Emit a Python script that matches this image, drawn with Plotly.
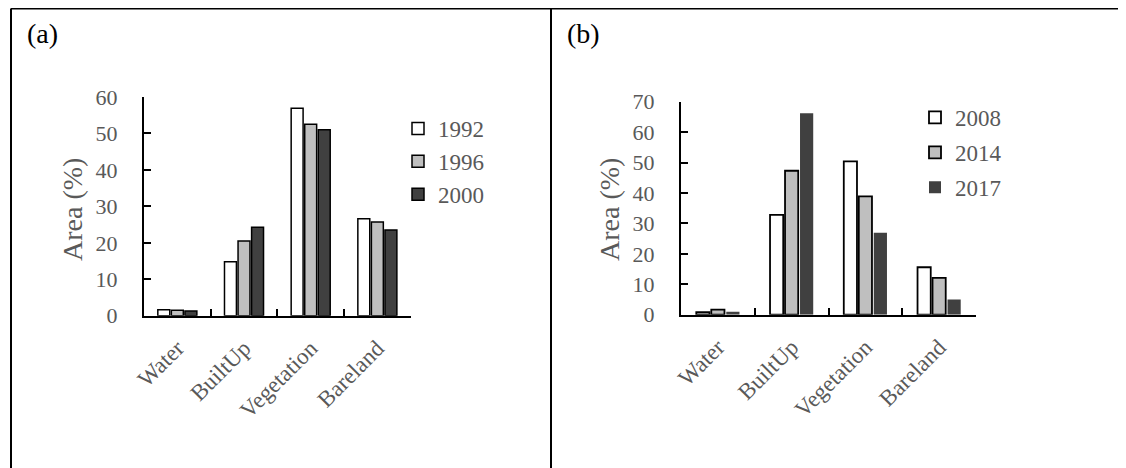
import plotly.graph_objects as go

# ---- data ----
categories = ["Water", "BuiltUp", "Vegetation", "Bareland"]
years_a = ["1992", "1996", "2000"]
a_1992 = [1.6, 14.8, 56.9, 26.6]
a_1996 = [1.5, 20.5, 52.5, 25.7]
a_2000 = [1.3, 24.3, 51.0, 23.5]
years_b = ["2008", "2014", "2017"]
b_2008 = [0.8, 32.8, 50.4, 15.6]
b_2014 = [1.7, 47.3, 38.9, 12.1]
b_2017 = [1.0, 66.2, 26.9, 5.0]
yticks_a = [0, 10, 20, 30, 40, 50, 60]
yticks_b = [0, 10, 20, 30, 40, 50, 60, 70]

W, H = 1126, 468
OFF = 8  # page body margin
FONT = "Liberation Serif"
GRAY = "#595959"
fills = ["#FFFFFF", "#BFBFBF", "#404040"]


def px(x):
    return (x - OFF) / W


def py(y):
    return 1 - (y - OFF) / H


fig = go.Figure()

series_a = [a_1992, a_1996, a_2000]
series_b = [b_2008, b_2014, b_2017]

for i, (yr, vals) in enumerate(zip(years_a, series_a)):
    fig.add_trace(go.Bar(
        x=categories, y=vals, name=yr, xaxis="x", yaxis="y",
        marker=dict(color=fills[i], line=dict(color="#000000", width=1.5)),
        legend="legend", legendgroup="a" + yr,
    ))

for i, (yr, vals) in enumerate(zip(years_b, series_b)):
    lw = 0 if i == 2 else 1.8
    fig.add_trace(go.Bar(
        x=categories, y=vals, name=yr, xaxis="x2", yaxis="y2",
        marker=dict(color=fills[i], line=dict(color="#000000", width=lw)),
        legend="legend2", legendgroup="b" + yr,
    ))

xcommon = dict(
    type="category", range=[-0.5, 3.5], showline=True, linecolor="#000000",
    linewidth=2, ticks="inside", tickson="boundaries", ticklen=7, tickwidth=2,
    tickcolor="#000000", tickangle=-45, showgrid=False, automargin=False,
    tickfont=dict(family=FONT, size=23, color=GRAY), ticklabelstandoff=8,
)
ycommon = dict(
    showline=True, linecolor="#000000", linewidth=2, ticks="inside",
    ticklen=7, tickwidth=2, tickcolor="#000000", showgrid=False,
    zeroline=False, automargin=False,
    tickfont=dict(family=FONT, size=22, color=GRAY),
    ticklabelstandoff=20,
)

fig.update_layout(
    width=W, height=H,
    margin=dict(l=0, r=0, t=0, b=0, autoexpand=False),
    paper_bgcolor="#FFFFFF", plot_bgcolor="#FFFFFF",
    barmode="group", bargap=0.39, bargroupgap=0.12,
    xaxis=dict(domain=[px(144), px(410.7)], anchor="y", **xcommon),
    yaxis=dict(domain=[py(315.7), py(97)], anchor="x", range=[0, 60],
               tickvals=yticks_a, **ycommon),
    xaxis2=dict(domain=[px(681), px(976)], anchor="y2", **xcommon),
    yaxis2=dict(domain=[py(314.7), py(101.7)], anchor="x2", range=[0, 70],
                tickvals=yticks_b, **ycommon),
    legend=dict(x=px(398), y=py(107), xanchor="left", yanchor="top",
                font=dict(family=FONT, size=23, color=GRAY),
                bgcolor="rgba(0,0,0,0)", tracegroupgap=0),
    legend2=dict(x=px(915), y=py(96), xanchor="left", yanchor="top",
                 font=dict(family=FONT, size=23, color=GRAY),
                 bgcolor="rgba(0,0,0,0)", tracegroupgap=2),
    showlegend=True,
)

ann_common = dict(xref="paper", yref="paper", showarrow=False,
                  xanchor="center", yanchor="middle")
# panel labels and axis titles
fig.add_annotation(x=px(42), y=py(33), text="(a)",
                   font=dict(family=FONT, size=28, color="#000000"), **ann_common)
fig.add_annotation(x=px(583), y=py(33), text="(b)",
                   font=dict(family=FONT, size=28, color="#000000"), **ann_common)
fig.add_annotation(x=px(72), y=py(210), text="Area (%)", textangle=-90,
                   font=dict(family=FONT, size=28, color=GRAY), **ann_common)
fig.add_annotation(x=px(609), y=py(210), text="Area (%)", textangle=-90,
                   font=dict(family=FONT, size=28, color=GRAY), **ann_common)

# table-like frame
for (x0, y0, x1, y1) in [(11, 8.5, W + OFF, 8.5), (11, 8.5, 11, H + OFF),
                         (551, 8.5, 551, H + OFF)]:
    fig.add_shape(type="line", xref="paper", yref="paper",
                  x0=px(x0), y0=py(y0), x1=px(x1), y1=py(y1),
                  line=dict(color="#000000", width=2))

fig.write_html("out.html")
